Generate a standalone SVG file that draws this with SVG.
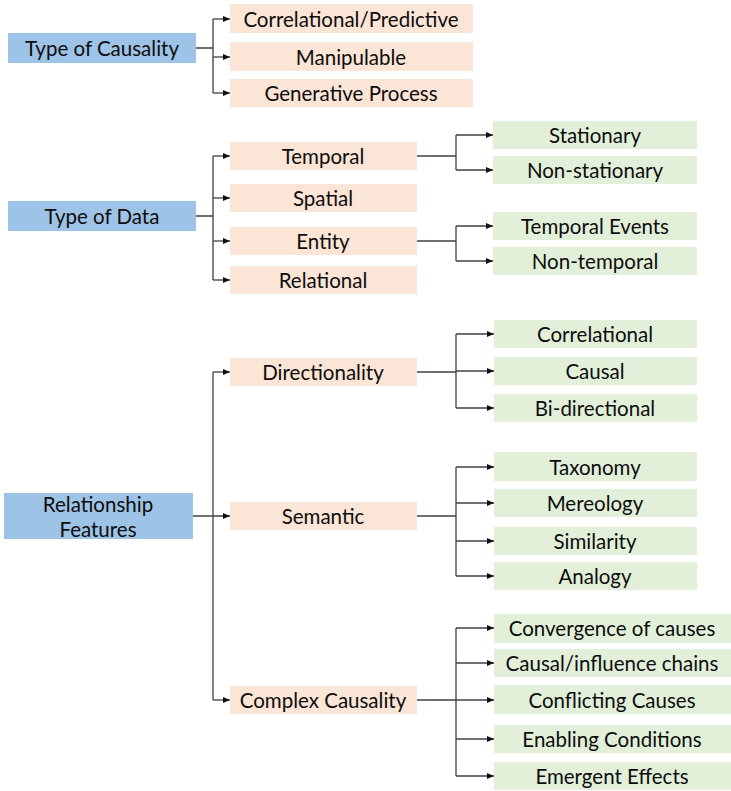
<svg xmlns="http://www.w3.org/2000/svg" width="731" height="791" viewBox="0 0 731 791">
  <style>
    .root { fill: #9DC3E6; }
    .mid { fill: #FBE5D6; }
    .leaf { fill: #E2F0D9; }
    text { font-family: "Lato", "Open Sans", sans-serif; font-size: 20.5px; fill: #0d0d0d; text-anchor: middle; dominant-baseline: central; }
    .wire { fill: none; stroke: #404040; stroke-width: 1.3; }
    .arr { marker-end: url(#tip); }
  </style>
  <defs>
    <marker id="tip" markerUnits="userSpaceOnUse" markerWidth="8" markerHeight="8" refX="7" refY="4" orient="auto">
      <path d="M0,1 L7,4 L0,7 Z" fill="#111"/>
    </marker>
  </defs>
  <rect width="731" height="791" fill="#fff"/>

  <!-- connectors -->
  <g id="connectors">
    <!-- Type of Causality -->
    <path class="wire" d="M196,48 H213 M213,19 V93"/>
    <path class="wire arr" d="M213,19 H230"/>
    <path class="wire arr" d="M213,57 H230"/>
    <path class="wire arr" d="M213,93 H230"/>
    <!-- Type of Data -->
    <path class="wire" d="M196,216 H213 M213,156 V280"/>
    <path class="wire arr" d="M213,156 H230"/>
    <path class="wire arr" d="M213,198 H230"/>
    <path class="wire arr" d="M213,241 H230"/>
    <path class="wire arr" d="M213,280 H230"/>
    <path class="wire" d="M417,156 H456 M456,135 V170"/>
    <path class="wire arr" d="M456,135 H493"/>
    <path class="wire arr" d="M456,170 H493"/>
    <path class="wire" d="M417,241 H456 M456,226 V261"/>
    <path class="wire arr" d="M456,226 H493"/>
    <path class="wire arr" d="M456,261 H493"/>
    <!-- Relationship Features -->
    <path class="wire" d="M213,372 V700"/>
    <path class="wire arr" d="M193,516 H230"/>
    <path class="wire arr" d="M213,372 H230"/>
    <path class="wire arr" d="M213,700 H230"/>
    <path class="wire" d="M417,372 H456 M456,334 V408"/>
    <path class="wire arr" d="M456,334 H494"/>
    <path class="wire arr" d="M456,371 H494"/>
    <path class="wire arr" d="M456,408 H494"/>
    <path class="wire" d="M417,516 H456 M456,467 V576"/>
    <path class="wire arr" d="M456,467 H494"/>
    <path class="wire arr" d="M456,503 H494"/>
    <path class="wire arr" d="M456,541 H494"/>
    <path class="wire arr" d="M456,576 H494"/>
    <path class="wire" d="M417,700 H456 M456,628 V776"/>
    <path class="wire arr" d="M456,628 H494"/>
    <path class="wire arr" d="M456,663 H494"/>
    <path class="wire arr" d="M456,700 H494"/>
    <path class="wire arr" d="M456,739 H494"/>
    <path class="wire arr" d="M456,776 H494"/>
  </g>

  <!-- Type of Causality -->
  <g id="type-of-causality"><rect class="root" x="8" y="33" width="188" height="30"/><text x="102" y="48">Type of Causality</text></g>
  <g id="correlational-predictive"><rect class="mid" x="230" y="4" width="243" height="29"/><text x="351" y="19">Correlational/Predictive</text></g>
  <g id="manipulable"><rect class="mid" x="230" y="42" width="243" height="29"/><text x="351" y="57">Manipulable</text></g>
  <g id="generative-process"><rect class="mid" x="230" y="79" width="243" height="28"/><text x="351" y="93">Generative Process</text></g>

  <!-- Type of Data -->
  <g id="type-of-data"><rect class="root" x="8" y="201" width="188" height="30"/><text x="102" y="216">Type of Data</text></g>
  <g id="temporal"><rect class="mid" x="230" y="142" width="187" height="28"/><text x="323" y="156">Temporal</text></g>
  <g id="spatial"><rect class="mid" x="230" y="184" width="187" height="28"/><text x="323" y="198">Spatial</text></g>
  <g id="entity"><rect class="mid" x="230" y="227" width="187" height="28"/><text x="323" y="241">Entity</text></g>
  <g id="relational"><rect class="mid" x="230" y="266" width="187" height="28"/><text x="323" y="280">Relational</text></g>
  <g id="stationary"><rect class="leaf" x="493" y="121" width="204" height="28"/><text x="595" y="135">Stationary</text></g>
  <g id="non-stationary"><rect class="leaf" x="493" y="156" width="204" height="28"/><text x="595" y="170">Non-stationary</text></g>
  <g id="temporal-events"><rect class="leaf" x="493" y="212" width="204" height="28"/><text x="595" y="226">Temporal Events</text></g>
  <g id="non-temporal"><rect class="leaf" x="493" y="247" width="204" height="28"/><text x="595" y="261">Non-temporal</text></g>

  <!-- Relationship Features -->
  <g id="relationship-features"><rect class="root" x="4" y="493" width="189" height="46"/><text x="98" y="504">Relationship</text><text x="98" y="529">Features</text></g>
  <g id="directionality"><rect class="mid" x="230" y="358" width="187" height="28"/><text x="323" y="372">Directionality</text></g>
  <g id="semantic"><rect class="mid" x="230" y="502" width="187" height="28"/><text x="323" y="516">Semantic</text></g>
  <g id="complex-causality"><rect class="mid" x="230" y="686" width="187" height="28"/><text x="323" y="700">Complex Causality</text></g>
  <g id="correlational"><rect class="leaf" x="494" y="320" width="203" height="28"/><text x="595" y="334">Correlational</text></g>
  <g id="causal"><rect class="leaf" x="494" y="357" width="203" height="28"/><text x="595" y="371">Causal</text></g>
  <g id="bi-directional"><rect class="leaf" x="494" y="394" width="203" height="28"/><text x="595" y="408">Bi-directional</text></g>
  <g id="taxonomy"><rect class="leaf" x="494" y="452" width="203" height="29"/><text x="595" y="467">Taxonomy</text></g>
  <g id="mereology"><rect class="leaf" x="494" y="489" width="203" height="28"/><text x="595" y="503">Mereology</text></g>
  <g id="similarity"><rect class="leaf" x="494" y="527" width="203" height="28"/><text x="595" y="541">Similarity</text></g>
  <g id="analogy"><rect class="leaf" x="494" y="562" width="203" height="28"/><text x="595" y="576">Analogy</text></g>
  <g id="convergence-of-causes"><rect class="leaf" x="494" y="614" width="237" height="29"/><text x="612" y="628">Convergence of causes</text></g>
  <g id="causal-influence-chains"><rect class="leaf" x="494" y="649" width="237" height="28"/><text x="612" y="663">Causal/influence chains</text></g>
  <g id="conflicting-causes"><rect class="leaf" x="494" y="685" width="237" height="29"/><text x="612" y="700">Conflicting Causes</text></g>
  <g id="enabling-conditions"><rect class="leaf" x="494" y="725" width="237" height="28"/><text x="612" y="739">Enabling Conditions</text></g>
  <g id="emergent-effects"><rect class="leaf" x="494" y="762" width="237" height="28"/><text x="612" y="776">Emergent Effects</text></g>
</svg>
